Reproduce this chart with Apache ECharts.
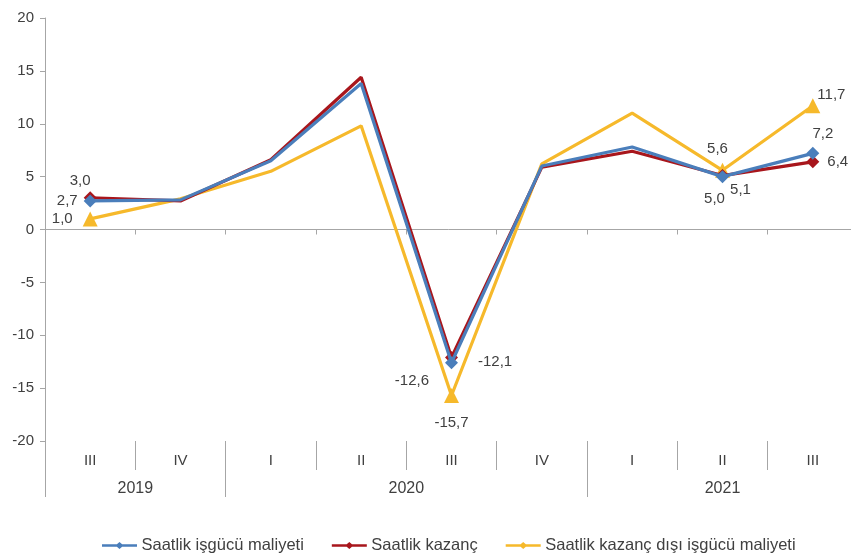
<!DOCTYPE html>
<html>
<head>
<meta charset="utf-8">
<script src="https://cdn.jsdelivr.net/npm/echarts@6/dist/echarts.min.js"></script>
<style>html,body{margin:0;padding:0;background:#fff;}#c{width:851px;height:556px;}</style>
</head>
<body>
<div id="c"></div>
<script>
var quarters = ['III', 'IV', 'I', 'II', 'III', 'IV', 'I', 'II', 'III'];
var yearSlots = ['', '', '2019', '', '', '', '', '', '2020', '', '', '', '', '', '', '2021', '', '', ''];
var yearLabelIdx = [2, 8, 15];
var yearTickIdx = [0, 4, 12, 18];
var seriesNames = ['Saatlik işgücü maliyeti', 'Saatlik kazanç', 'Saatlik kazanç dışı işgücü maliyeti'];
var isgucu = [2.7, 2.8, 6.5, 13.8, -12.6, 6.0, 7.8, 5.0, 7.2];
var kazanc = [3.0, 2.7, 6.6, 14.4, -12.1, 5.9, 7.4, 5.1, 6.4];
var kazancDisi = [1.0, 2.9, 5.5, 9.8, -15.7, 6.2, 11.0, 5.6, 11.7];
var markedIdx = [0, 4, 7, 8];

var colors = ['#4a7ebb', '#a8161c', '#f6b92b'];
var symbols = ['diamond', 'diamond', 'triangle'];
var labelStyles = [
  {0: {position: 'left', distance: 6}, 4: {position: 'left', distance: 8, offset: [-8, 18]}, 7: {position: 'bottom', distance: 6, offset: [-8, 2]}, 8: {position: 'top', distance: 6, offset: [10, 0]}},
  {0: {position: 'top', distance: 3, offset: [-10, 0]}, 4: {position: 'right', distance: 20, offset: [0, 4]}, 7: {position: 'bottom', distance: 0, offset: [18, 0]}, 8: {position: 'right', distance: 8}},
  {0: {position: 'left', distance: 10}, 4: {position: 'bottom', distance: 12}, 7: {position: 'top', distance: 6, offset: [-5, 0]}, 8: {position: 'right', distance: 0, offset: [-3, -11]}}
];
var allData = [isgucu, kazanc, kazancDisi];

function buildSeries(k) {
  var data = allData[k].map(function (v, i) {
    var item = {value: v};
    if (markedIdx.indexOf(i) >= 0) {
      var ls = labelStyles[k][i];
      item.label = Object.assign({show: true}, ls);
    }
    return item;
  });
  return {
    name: seriesNames[k],
    type: 'line',
    xAxisIndex: 0,
    data: data,
    symbol: function (val, p) { return markedIdx.indexOf(p.dataIndex) >= 0 ? symbols[k] : 'none'; },
    symbolSize: k === 2 ? 15 : 13,
    showAllSymbol: true,
    lineStyle: {width: 3.2, color: colors[k]},
    itemStyle: {color: colors[k]},
    label: {
      show: false,
      color: '#404040',
      fontSize: 15,
      fontFamily: 'Liberation Sans, Arial, sans-serif',
      formatter: function (p) { return p.value.toFixed(1).replace('.', ','); }
    },
    emphasis: {disabled: true},
    z: k === 2 ? 3 : (k === 1 ? 4 : 5)
  };
}

var legendIcon = 'path://M0,2.5 H17 L20,0 L23,2.5 H40 V5.5 H23 L20,8 L17,5.5 H0 Z';

var chart = echarts.init(document.getElementById('c'));
chart.setOption({
  animation: false,
  backgroundColor: '#ffffff',
  textStyle: {fontFamily: 'Liberation Sans, Arial, sans-serif'},
  grid: {left: 45, top: 18, width: 813, height: 423, outerBoundsMode: 'none', containLabel: false},
  legend: {
    left: 97, top: 532,
    itemWidth: 40, itemHeight: 7, itemGap: 28,
    icon: legendIcon,
    textStyle: {color: '#404040', fontSize: 16.5, padding: [0, 0, 0, -3]},
    data: seriesNames
  },
  xAxis: [
    {
      type: 'category', data: quarters, boundaryGap: true,
      axisLine: {onZero: true, lineStyle: {color: '#a6a6a6', width: 1}},
      axisTick: {show: true, length: 5, lineStyle: {color: '#a6a6a6'}},
      axisLabel: {show: false}
    },
    {
      type: 'category', data: quarters, boundaryGap: true, position: 'bottom',
      axisLine: {show: false, onZero: false},
      axisTick: {show: true, length: 29, lineStyle: {color: '#a6a6a6'}},
      axisLabel: {show: true, color: '#404040', fontSize: 15, margin: 12}
    },
    {
      type: 'category', data: yearSlots, boundaryGap: false, position: 'bottom',
      axisLine: {show: false, onZero: false},
      axisTick: {show: true, length: 56, lineStyle: {color: '#a6a6a6'},
        interval: function (i) { return yearTickIdx.indexOf(i) >= 0; }},
      axisLabel: {show: true, color: '#404040', fontSize: 16, margin: 40,
        interval: function (i) { return yearLabelIdx.indexOf(i) >= 0; }}
    }
  ],
  yAxis: {
    type: 'value', min: -20, max: 20, interval: 5,
    axisLine: {show: true, lineStyle: {color: '#a6a6a6'}},
    axisTick: {show: true, length: 5, lineStyle: {color: '#a6a6a6'}},
    axisLabel: {color: '#404040', fontSize: 15, margin: 11},
    splitLine: {show: false}
  },
  series: [buildSeries(0), buildSeries(1), buildSeries(2)]
});
</script>
</body>
</html>
